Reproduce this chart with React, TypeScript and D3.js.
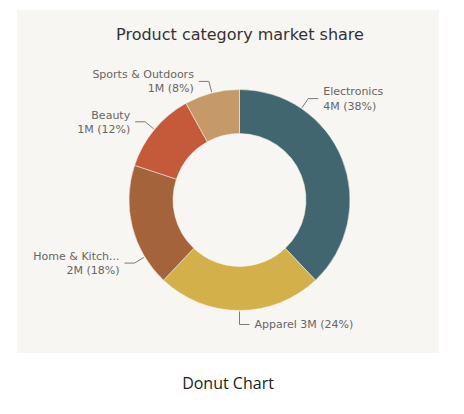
import * as d3 from 'd3';

const categories = ['Electronics', 'Apparel', 'Home & Kitchen', 'Beauty', 'Sports & Outdoors'];
const shortNames = ['Electronics', 'Apparel', 'Home & Kitch...', 'Beauty', 'Sports & Outdoors'];
const values = [3.96, 2.52, 1.88, 1.24, 0.84]; // millions
const colors = ['#41666f', '#d4b04a', '#a4633a', '#c55a3a', '#c59a68'];
// where along each slice the leader line sits (0..1), and whether label is one line
const labelAt = [0.25, 0.5, 0.24, 0.5, 0.5];
const singleLine = [false, true, false, false, false];

const W = 464;
const H = 414;
const cx = 239.5;
const cy = 200;
const outer = 110.5;
const inner = 66.5;

export default function App() {
  const total = d3.sum(values);
  const pie = d3.pie<number>().sort(null).value(d => d);
  const arcs = pie(values);
  const arc = d3.arc<d3.PieArcDatum<number>>().innerRadius(inner).outerRadius(outer);
  const fmtM = (v: number) => `${d3.format('.0f')(v)}M`;
  const fmtP = (v: number) => `${d3.format('.0f')((v / total) * 100)}%`;

  return (
    <svg width={W} height={H} style={{ position: 'absolute', left: 0, top: 0, display: 'block' }}>
      <rect x={0} y={0} width={W} height={H} fill="#ffffff" />
      <rect x={17} y={10} width={422} height={343} fill="#f8f6f2" />
      <text x={240} y={40} textAnchor="middle" fontFamily="DejaVu Sans" fontSize={16} fill="#333">
        Product category market share
      </text>
      <g transform={`translate(${cx},${cy})`}>
        {arcs.map((a, i) => (
          <path key={categories[i]} d={arc(a) || ''} fill={colors[i]} stroke="#f8f6f2" strokeWidth={0.5} />
        ))}
        {arcs.map((a, i) => {
          const ang = a.startAngle + (a.endAngle - a.startAngle) * labelAt[i];
          const sx = Math.sin(ang);
          const sy = -Math.cos(ang);
          const right = sx > 0;
          const r1 = outer + 1;
          const r2 = outer + (singleLine[i] ? 14 : 12);
          const x1 = sx * r1, y1 = sy * r1;
          const x2 = sx * r2, y2 = sy * r2;
          const x3 = x2 + (right ? 10 : -10);
          const tx = x3 + (right ? 5 : -5);
          const anchor = right ? 'start' : 'end';
          const val = `${fmtM(values[i])} (${fmtP(values[i])})`;
          return (
            <g key={`lbl-${i}`}>
              <polyline
                points={`${x1},${y1} ${x2},${y2} ${x3},${y2}`}
                fill="none"
                stroke="#7a7a7a"
                strokeWidth={1}
              />
              <text
                x={tx}
                y={y2}
                textAnchor={anchor}
                fontFamily="DejaVu Sans"
                fontSize={11}
                fill="#666"
              >
                {singleLine[i] ? (
                  <tspan x={tx} dy="0.35em">{`${shortNames[i]} ${val}`}</tspan>
                ) : (
                  <>
                    <tspan x={tx} dy="-0.3em">{shortNames[i]}</tspan>
                    <tspan x={tx} dy="1.3em">{val}</tspan>
                  </>
                )}
              </text>
            </g>
          );
        })}
      </g>
      <text x={228} y={389} textAnchor="middle" fontFamily="Open Sans" fontSize={16} fill="#222">
        Donut Chart
      </text>
    </svg>
  );
}
